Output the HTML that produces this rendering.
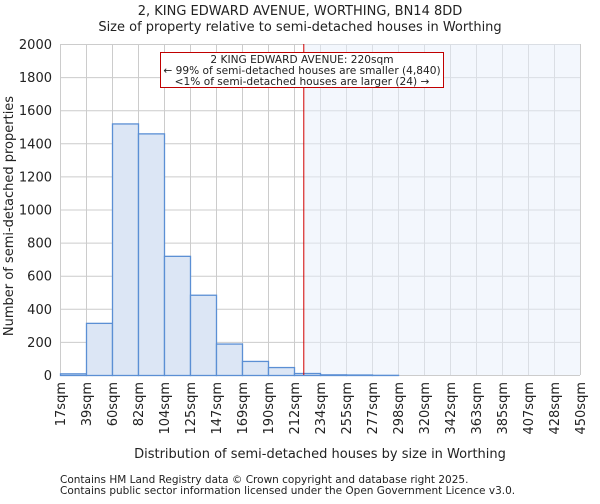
<!DOCTYPE html>
<html><head><meta charset="utf-8"><style>
body{margin:0;background:#fff;font-family:"DejaVu Sans","Liberation Sans",sans-serif;}
svg text{fill:#222;}
</style></head><body>
<svg width="600" height="500" viewBox="0 0 600 500">
<g id="grid"></g>
<rect id="hl" fill="#e8effc" fill-opacity="0.5"/>
<g id="bars"></g>
<line id="marker" stroke="#d00000" stroke-width="1"/>
<g id="axes"></g>
<g>
<rect x="160.5" y="52.5" width="283" height="35" fill="#fff" stroke="#c00000" stroke-width="1"/>
<text x="302" y="63" font-size="10.6" text-anchor="middle">2 KING EDWARD AVENUE: 220sqm</text>
<text x="302" y="74" font-size="10.6" text-anchor="middle">← 99% of semi-detached houses are smaller (4,840)</text>
<text x="302" y="85" font-size="10.6" text-anchor="middle">&lt;1% of semi-detached houses are larger (24) →</text>
</g>
<text x="300" y="15" font-size="13" text-anchor="middle">2, KING EDWARD AVENUE, WORTHING, BN14 8DD</text>
<text x="300" y="31" font-size="13" text-anchor="middle">Size of property relative to semi-detached houses in Worthing</text>
<text x="320" y="458" font-size="13" text-anchor="middle">Distribution of semi-detached houses by size in Worthing</text>
<text transform="translate(13,216) rotate(-90)" font-size="13" text-anchor="middle">Number of semi-detached properties</text>
<text x="60" y="483" font-size="10.5">Contains HM Land Registry data © Crown copyright and database right 2025.</text>
<text x="60" y="494" font-size="10.5">Contains public sector information licensed under the Open Government Licence v3.0.</text>
</svg>
<script>
const binLabels=["17sqm","39sqm","60sqm","82sqm","104sqm","125sqm","147sqm","169sqm","190sqm","212sqm","234sqm","255sqm","277sqm","298sqm","320sqm","342sqm","363sqm","385sqm","407sqm","428sqm","450sqm"];
const counts=[10,315,1520,1460,720,485,190,85,48,12,4,3,1,0,0,0,0,0,0,0];
const yTicks=[0,200,400,600,800,1000,1200,1400,1600,1800,2000];
const markerValue=220;
const xMin=17,xMax=450;
const X0=60,X1=580,Y0=375,Y1=44;
const ns="http://www.w3.org/2000/svg";
const xb=i=>X0+(X1-X0)*i/counts.length;
const xv=v=>X0+(X1-X0)*(v-xMin)/(xMax-xMin);
const y=v=>Y0-(Y0-Y1)*v/2000;
function mk(t,a,p){const e=document.createElementNS(ns,t);for(const k in a)e.setAttribute(k,a[k]);p.appendChild(e);return e;}
const grid=document.getElementById('grid'),bars=document.getElementById('bars'),axes=document.getElementById('axes');
yTicks.forEach(t=>{
 const l=mk('line',{x1:X0,x2:X1,y1:y(t)+.5,y2:y(t)+.5,stroke:'#cccccc'},grid);
 
 
 const tx=mk('text',{x:X0-8,y:y(t)+5,'font-size':13,'text-anchor':'end'},axes);
 tx.textContent=t;
 
 
});
binLabels.forEach((lab,i)=>{
 const x=xb(i);
 const l=mk('line',{x1:x+.5,x2:x+.5,y1:Y1,y2:Y0,stroke:'#cccccc'},grid);
 
 
 const tx=mk('text',{transform:`translate(${x+5},382) rotate(-90)`,'font-size':13,'text-anchor':'end'},axes);
 tx.textContent=lab;
 
 
});
const hl=document.getElementById('hl');
hl.setAttribute('x',xv(markerValue));hl.setAttribute('y',Y1);hl.setAttribute('width',X1-xv(markerValue));hl.setAttribute('height',Y0-Y1);
counts.forEach((c,i)=>{
 const after=xb(i)>=xv(markerValue)-1;
 const r=mk('rect',{x:xb(i)+.5,y:y(c)+.5,width:xb(i+1)-xb(i),height:Math.max(0,Y0-y(c)),fill:after?'#eef3fd':'#dce6f5',stroke:'#5b8fd4','stroke-width':1.3},bars);
 
 
});
const m=document.getElementById('marker');
m.setAttribute('x1',xv(markerValue));m.setAttribute('x2',xv(markerValue));m.setAttribute('y1',Y1);m.setAttribute('y2',Y0);
</script>
</body></html>
